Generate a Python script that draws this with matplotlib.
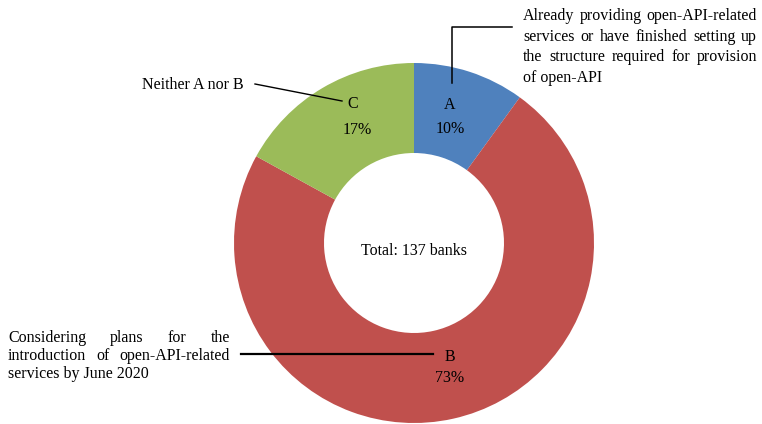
import matplotlib
matplotlib.use("Agg")
import matplotlib.pyplot as plt

# survey result: open-API status of banks
categorias = ["A", "B", "C"]
porcentajes = [10, 73, 17]
colores = ["#4F81BD", "#C0504D", "#9BBB59"]
total_bancos = 137

plt.rcParams["font.family"] = ["Liberation Serif", "DejaVu Serif"]
FS = 11.5

W, H = 762, 424
fig = plt.figure(figsize=(W / 100, H / 100), dpi=100)
ax = fig.add_axes([0, 0, 1, 1])

# donut, pixel coordinates with y pointing down
ax.pie(porcentajes, colors=colores, startangle=-90, counterclock=True,
       center=(414, 243), radius=180, frame=True,
       wedgeprops=dict(width=90, linewidth=0))
ax.set_xlim(0, W)
ax.set_ylim(H, 0)
ax.set_aspect("equal")
ax.axis("off")

# category letter + percentage inside each ring segment
pos_letra = {"A": (450, 105), "B": (450, 357), "C": (353, 104)}
pos_pct = {"A": (450, 129), "B": (450, 378), "C": (357, 130)}
for cat, pct in zip(categorias, porcentajes):
    ax.text(*pos_letra[cat], cat, ha="center", va="center", fontsize=FS)
    ax.text(*pos_pct[cat], f"{pct}%", ha="center", va="center", fontsize=FS)

ax.text(414, 251, f"Total: {total_bancos} banks", ha="center", va="center",
        fontsize=FS)

renderer = fig.canvas.get_renderer()


def texto_justificado(lineas, x0, x1, y0, paso):
    """Draw lines of words justified between x0 and x1 (last line left aligned)."""
    for i, linea in enumerate(lineas):
        y = y0 + i * paso
        palabras = linea.split()
        if i == len(lineas) - 1 or len(palabras) == 1:
            ax.text(x0, y, linea, ha="left", va="center", fontsize=FS)
            continue
        objs = [ax.text(0, y, p, ha="left", va="center", fontsize=FS)
                for p in palabras]
        anchos = [o.get_window_extent(renderer).width for o in objs]
        hueco = (x1 - x0 - sum(anchos)) / (len(palabras) - 1)
        x = x0
        for o, a in zip(objs, anchos):
            o.set_x(x)
            x += a + hueco


texto_justificado(["Already providing open-API-related",
                   "services or have finished setting up",
                   "the structure required for provision",
                   "of open-API"], 523, 757, 16, 20.7)

texto_justificado(["Considering plans for the",
                   "introduction of open-API-related",
                   "services by June 2020"], 8, 230, 338, 17.8)

ax.text(244, 85, "Neither A nor B", ha="right", va="center", fontsize=FS)

# leader lines
ax.plot([452, 452, 512], [83, 27, 27], color="black", lw=1.1)
ax.plot([255, 342], [84, 101], color="black", lw=1.0)
ax.plot([241, 433], [354, 354], color="black", lw=1.6)

fig.savefig("out.png", dpi=100)
